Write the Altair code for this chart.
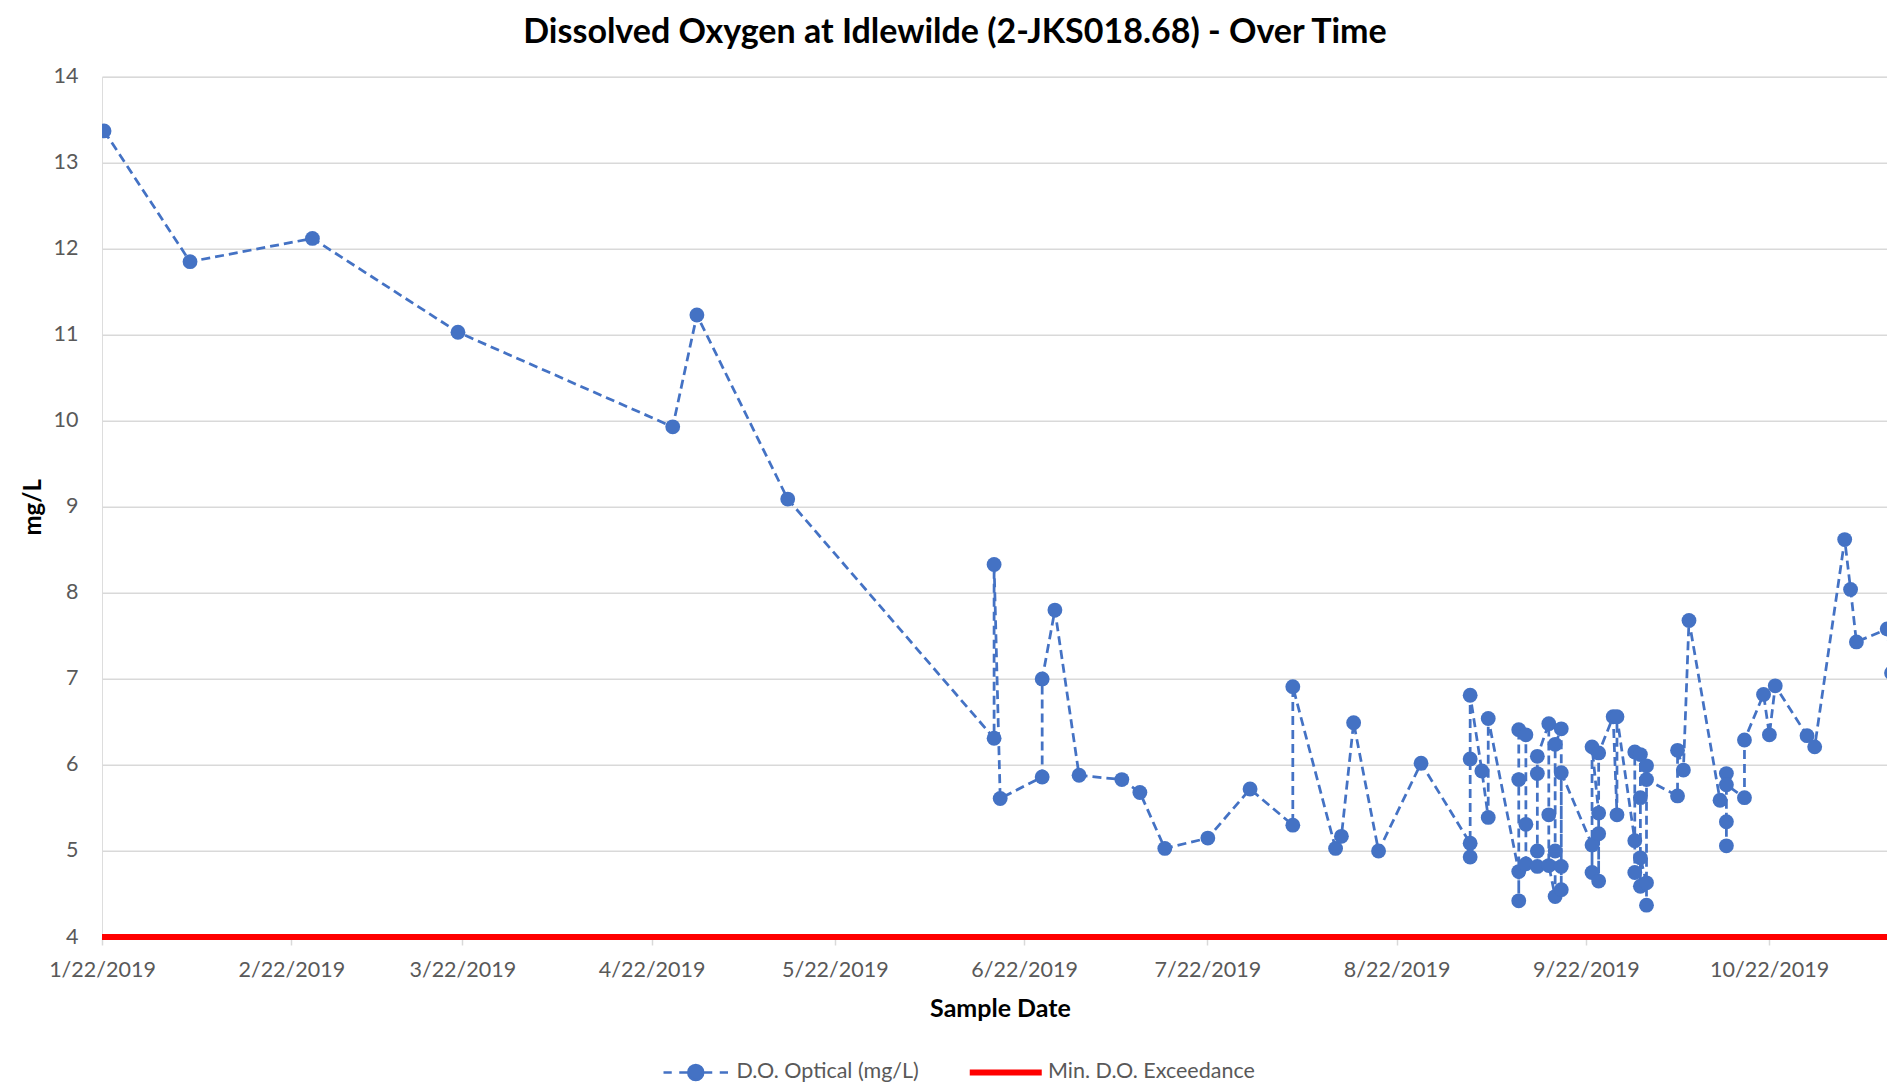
import altair as alt
import pandas as pd

SERIES_DO = "D.O. Optical (mg/L)"
SERIES_MIN = "Min. D.O. Exceedance"

sample_dates = [
    "2019-01-22T08:00", "2019-02-05T10:00", "2019-02-25T11:00", "2019-03-21T07:00",
    "2019-04-25T11:00", "2019-04-29T10:00", "2019-05-14T07:00",
    "2019-06-17T02:00", "2019-06-17T02:00", "2019-06-18T02:00",
    "2019-06-24T23:00", "2019-06-24T23:00", "2019-06-27T01:00",
    "2019-07-01T00:00", "2019-07-08T00:00", "2019-07-10T23:00", "2019-07-15T01:00",
    "2019-07-22T02:00", "2019-07-29T00:00",
    "2019-08-05T00:00", "2019-08-05T00:00", "2019-08-12T00:00", "2019-08-12T23:00",
    "2019-08-14T23:00", "2019-08-19T01:00", "2019-08-26T00:00",
    "2019-09-03T01:00", "2019-09-03T01:00", "2019-09-03T01:00", "2019-09-03T01:00",
    "2019-09-04T23:00", "2019-09-06T00:00", "2019-09-06T00:00",
    "2019-09-11T00:00", "2019-09-11T00:00", "2019-09-11T00:00", "2019-09-11T00:00",
    "2019-09-12T04:00", "2019-09-12T04:00", "2019-09-12T04:00",
    "2019-09-14T01:00", "2019-09-14T01:00", "2019-09-14T01:00", "2019-09-14T01:00",
    "2019-09-15T22:00", "2019-09-15T22:00", "2019-09-15T22:00",
    "2019-09-16T23:00", "2019-09-16T23:00", "2019-09-16T23:00",
    "2019-09-17T23:00", "2019-09-17T23:00", "2019-09-17T23:00", "2019-09-17T23:00",
    "2019-09-23T00:00", "2019-09-23T00:00", "2019-09-23T00:00",
    "2019-09-24T02:00", "2019-09-24T02:00", "2019-09-24T02:00", "2019-09-24T02:00",
    "2019-09-26T11:00", "2019-09-27T02:00", "2019-09-27T02:00",
    "2019-09-30T00:00", "2019-09-30T00:00", "2019-09-30T00:00",
    "2019-09-30T22:00", "2019-09-30T22:00", "2019-09-30T22:00", "2019-09-30T22:00",
    "2019-10-01T22:00", "2019-10-01T22:00", "2019-10-01T22:00", "2019-10-01T22:00",
    "2019-10-07T00:00", "2019-10-07T00:00", "2019-10-07T23:00", "2019-10-08T21:00",
    "2019-10-13T23:00", "2019-10-15T00:00", "2019-10-15T00:00", "2019-10-15T00:00",
    "2019-10-15T00:00", "2019-10-17T23:00", "2019-10-17T23:00",
    "2019-10-21T02:00", "2019-10-22T01:00", "2019-10-23T00:00",
    "2019-10-28T05:00", "2019-10-29T11:00",
    "2019-11-03T09:00", "2019-11-04T08:00", "2019-11-05T07:00",
    "2019-11-10T08:00", "2019-11-11T01:00", "2019-11-11T17:00",
]

do_values = [
    13.37, 11.85, 12.12, 11.03,
    9.93, 11.23, 9.09,
    6.31, 8.33, 5.61,
    5.86, 7.00, 7.80,
    5.88, 5.83, 5.68, 5.03,
    5.15, 5.72,
    5.30, 6.91, 5.03, 5.17,
    6.49, 5.00, 6.02,
    5.09, 4.93, 6.07, 6.81,
    5.93, 5.39, 6.54,
    4.76, 4.42, 5.83, 6.41,
    6.35, 5.31, 4.85,
    4.82, 5.00, 5.90, 6.10,
    6.48, 5.42, 4.83,
    4.47, 5.00, 6.24,
    6.42, 4.55, 4.82, 5.91,
    5.07, 4.75, 6.21,
    5.44, 5.20, 4.65, 6.14,
    6.56, 5.42, 6.56,
    5.12, 4.75, 6.15,
    6.12, 5.62, 4.59, 4.92,
    4.63, 4.37, 5.99, 5.83,
    5.64, 6.17, 5.94, 7.68,
    5.59, 5.90, 5.06, 5.34,
    5.77, 5.62, 6.29,
    6.82, 6.35, 6.92,
    6.34, 6.21,
    8.62, 8.04, 7.43,
    7.58, 7.07, 8.44,
]

min_do_level = [4]

y_ticks = [4, 5, 6, 7, 8, 9, 10, 11, 12, 13, 14]
x_tick_months = [1, 2, 3, 4, 5, 6, 7, 8, 9, 10]

BLUE = "#4472C4"
RED = "#FF0000"
GRID = "#D9D9D9"
LABEL = "#595959"
FONT = "Lato"

df = pd.DataFrame({
    "date": sample_dates,
    "value": do_values,
    "seq": list(range(len(do_values))),
    "series": SERIES_DO,
})
df_min = pd.DataFrame({"value": min_do_level, "series": [SERIES_MIN]})

W = 1785
H = 860.3

x_enc = alt.X(
    "date:T",
    scale=alt.Scale(
        domain=[alt.DateTime(year=2019, month=1, date=22),
                alt.DateTime(year=2019, month=11, date=10, hours=7, minutes=12)],
        nice=False,
    ),
    axis=alt.Axis(
        values=[alt.DateTime(year=2019, month=m, date=22) for m in x_tick_months],
        format="%-m/%-d/%Y",
        labelFlush=False,
        labelOverlap=False,
        domain=False,
        grid=False,
        ticks=True,
        tickColor=GRID,
        tickWidth=1.5,
        tickSize=8,
        labelPadding=14,
        labelFont=FONT,
        labelFontSize=21.5,
        labelColor=LABEL,
        title="Sample Date",
        titleFont=FONT,
        titleFontSize=25,
        titleFontWeight="bold",
        titleColor="black",
        titleX=898,
        titleY=71,
        titleAlign="center",
        titleBaseline="middle",
    ),
)

y_enc = alt.Y(
    "value:Q",
    scale=alt.Scale(domain=[4, 14], nice=False, zero=False),
    axis=alt.Axis(
        values=y_ticks,
        grid=True,
        gridColor=GRID,
        gridWidth=1.5,
        domain=False,
        ticks=False,
        tickSize=0,
        labelPadding=24,
        labelFont=FONT,
        labelFontSize=21.5,
        labelColor=LABEL,
        title="mg/L",
        titleFont=FONT,
        titleFontSize=24,
        titleFontWeight="bold",
        titleColor="black",
        titleX=-69,
        titleY=H / 2,
        titleBaseline="middle",
    ),
)

DO_SYMBOL = ("M-4.3,0L-3.2,0M-2.2,0L-1,0M1,0L2.2,0M3.2,0L4.3,0"
             "M-1,0A1,1 0 1,0 1,0A1,1 0 1,0 -1,0Z")
RED_SYMBOL = "M-4.8,0L4.8,0"

line = alt.Chart(df).mark_line(
    color=BLUE, strokeWidth=2.75, strokeDash=[9, 5], clip=True
).encode(x=x_enc, y=y_enc, order=alt.Order("seq:Q"))

points = alt.Chart(df).mark_circle(size=220, opacity=1, clip=True).encode(
    x=x_enc,
    y=y_enc,
    color=alt.Color(
        "series:N",
        scale=alt.Scale(domain=[SERIES_DO], range=[BLUE]),
        legend=alt.Legend(
            orient="none", legendX=583, legendY=985, title=None,
            symbolType=DO_SYMBOL, symbolSize=225,
            symbolFillColor=BLUE, symbolStrokeColor=BLUE, symbolStrokeWidth=2.5,
            labelFont=FONT, labelFontSize=21.5, labelColor=LABEL,
            labelOffset=30, labelLimit=0, padding=0,
        ),
    ),
)

rule = alt.Chart(df_min).mark_rule(strokeWidth=6).encode(
    y=y_enc,
    color=alt.Color(
        "series:N",
        scale=alt.Scale(domain=[SERIES_MIN], range=[RED]),
        legend=alt.Legend(
            orient="none", legendX=893, legendY=985, title=None,
            symbolType=RED_SYMBOL, symbolSize=225,
            symbolStrokeColor=RED, symbolStrokeWidth=6,
            labelFont=FONT, labelFontSize=21.5, labelColor=LABEL,
            labelOffset=31.5, labelLimit=0, padding=0,
        ),
    ),
)

chart = alt.layer(line, rule, points).resolve_scale(color="independent").properties(
    width=W,
    height=H,
    title=alt.TitleParams(
        text="Dissolved Oxygen at Idlewilde (2-JKS018.68) - Over Time",
        anchor="start", align="center", dx=853, frame="group",
        font=FONT, fontSize=34, fontWeight="bold", color="black", offset=16,
    ),
    autosize=alt.AutoSizeParams(type="none"),
    padding={"left": 94, "top": 68.7, "right": 0, "bottom": 147},
).configure_view(stroke=None).configure(background="white")

chart.save("out.html", embed_options={"renderer": "svg", "actions": False})
